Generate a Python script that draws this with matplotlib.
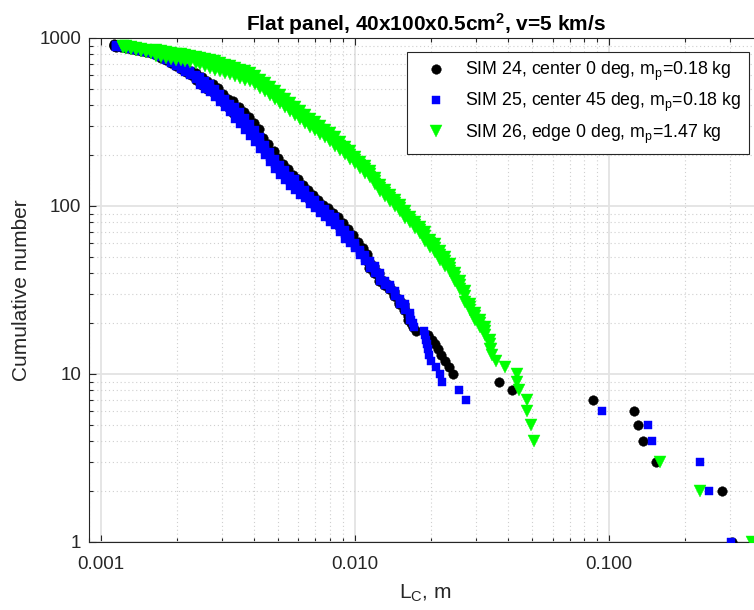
import numpy as np
import matplotlib
matplotlib.use("Agg")
import matplotlib.pyplot as plt
from matplotlib.ticker import FixedLocator, LogLocator, NullFormatter

plt.rcParams["font.family"] = ["Liberation Sans", "DejaVu Sans"]
plt.rcParams["mathtext.fontset"] = "custom"
plt.rcParams["mathtext.rm"] = "Liberation Sans"
plt.rcParams["mathtext.it"] = "Liberation Sans"
plt.rcParams["mathtext.bf"] = "Liberation Sans:bold"

# L_C in mm, cumulative number N.
# Dense part: sampled sizes with the middle, upper and lower edge of the band.
# Tail: the single fragments.

# SIM 24
lc24_dense = np.array([
    1.125, 1.15, 1.20, 1.254, 1.312, 1.373, 1.436, 1.502, 1.572, 1.645,
    1.721, 1.80, 1.884, 1.971, 2.062, 2.16, 2.26, 2.37, 2.50, 2.63,
    2.77, 2.90, 3.04, 3.18, 3.33, 3.49, 3.65, 3.82, 4.00, 4.18,
    4.37, 4.57, 4.79, 5.00, 5.24, 5.48, 5.73, 5.99, 6.27, 6.56,
    6.87, 7.18, 7.52, 7.87, 8.22, 8.60, 9.00, 9.42, 9.85, 10.30,
    10.75, 11.2, 11.4, 11.9, 12.45, 13.0, 13.6, 14.2, 14.9, 15.6,
    16.2])
n24_mid = np.array([
    908, 900, 892, 884, 872, 860, 848, 837, 820, 803,
    781, 757, 732, 703, 675, 648, 622, 590, 558, 528,
    506, 474, 442, 413, 386, 360, 336, 310, 286, 263,
    238, 218, 198, 180, 166, 154, 142, 135, 126, 118,
    110, 103, 97, 92, 86, 81, 75, 69, 64, 59,
    54, 50, 45, 42, 38, 35, 33, 30, 27, 25,
    22])
n24_top = np.array([
    920, 912, 904, 896, 884, 872, 860, 849, 831, 814,
    803, 778, 752, 723, 694, 666, 639, 623, 589, 558,
    534, 501, 467, 436, 419, 391, 365, 337, 310, 286,
    255, 233, 212, 193, 178, 165, 152, 145, 133, 125,
    116, 109, 102, 97, 91, 86, 79, 73, 67, 61,
    56, 52, 47, 44, 40, 36, 34, 31, 28, 26,
    23])
n24_bot = np.array([
    896, 888, 880, 872, 860, 848, 836, 826, 809, 792,
    760, 737, 712, 684, 657, 630, 605, 559, 528, 500,
    479, 449, 418, 391, 356, 332, 310, 286, 263, 242,
    222, 204, 185, 168, 155, 144, 133, 126, 119, 112,
    104, 98, 92, 87, 81, 77, 71, 65, 61, 57,
    52, 48, 43, 40, 36, 34, 32, 29, 26, 24,
    21])
lc24_tail = np.array([
    16.6, 16.96, 17.43, 19.43, 20.14, 20.70, 21.27, 21.85, 22.66, 23.38,
    24.44, 36.97, 41.6, 86.5, 125.0, 130.0, 136.5, 153.8, 278.6, 305.5])
n24_tail = np.array([
    20, 19, 18, 17, 16, 15, 14, 13, 12, 11,
    10, 9, 8, 7, 6, 5, 4, 3, 2, 1])

# SIM 25
lc25_dense = np.array([
    1.145, 1.198, 1.254, 1.312, 1.373, 1.436, 1.502, 1.572, 1.645, 1.721,
    1.800, 1.884, 1.971, 2.062, 2.157, 2.257, 2.362, 2.471, 2.585, 2.705,
    2.830, 2.961, 3.098, 3.241, 3.391, 3.548, 3.712, 3.884, 4.063, 4.251,
    4.448, 4.654, 4.869, 5.094, 5.330, 5.576, 5.834, 6.104, 6.387, 6.682,
    6.991, 7.315, 7.653, 8.007, 8.377, 8.765, 9.170, 9.595, 10.04, 10.50,
    10.99, 11.50, 12.03, 12.59, 13.17, 13.78, 14.41, 15.08, 15.78, 16.51])
n25_mid = np.array([
    896, 890, 884, 872, 860, 848, 837, 820, 803, 781,
    755, 730, 700, 672, 645, 619, 586, 555, 525, 504,
    471, 439, 411, 384, 358, 334, 308, 284, 261, 236,
    216, 196, 178, 164, 153, 141, 134, 125, 117, 109,
    102, 96, 91, 85, 81, 74, 68, 63, 58, 53,
    49, 45, 42, 38, 35, 33, 30, 27, 25, 22])
n25_top = np.array([
    908, 902, 896, 884, 872, 860, 849, 831, 814, 792,
    776, 750, 719, 691, 663, 636, 602, 586, 555, 532,
    498, 464, 434, 406, 389, 363, 334, 308, 283, 256,
    231, 210, 191, 176, 164, 151, 144, 134, 124, 115,
    108, 101, 96, 90, 86, 78, 72, 67, 60, 55,
    51, 47, 44, 40, 36, 34, 31, 28, 26, 23])
n25_bot = np.array([
    884, 878, 872, 860, 848, 836, 826, 809, 792, 770,
    735, 710, 681, 654, 628, 602, 570, 525, 497, 477,
    446, 416, 389, 364, 330, 308, 284, 262, 240, 217,
    202, 183, 166, 153, 143, 132, 125, 117, 111, 103,
    97, 91, 86, 80, 77, 70, 64, 60, 56, 51,
    47, 43, 40, 36, 34, 32, 29, 26, 24, 21])
lc25_tail = np.array([
    16.66, 16.96, 17.11, 18.74, 18.91, 19.08, 19.25, 19.43, 19.60, 19.96,
    20.88, 21.66, 22.13, 25.67, 27.50, 93.9, 143.0, 147.0, 227.8, 246.4,
    303.1])
n25_tail = np.array([
    21, 20, 19, 18, 17, 16, 15, 14, 13, 12,
    11, 10, 9, 8, 7, 6, 5, 4, 3, 2,
    1])

# SIM 26
lc26_dense = np.array([
    1.220, 1.254, 1.312, 1.373, 1.436, 1.502, 1.572, 1.645, 1.721, 1.800,
    1.884, 1.971, 2.062, 2.157, 2.257, 2.362, 2.471, 2.585, 2.705, 2.830,
    2.961, 3.098, 3.241, 3.391, 3.548, 3.712, 3.884, 4.063, 4.251, 4.448,
    4.654, 4.869, 5.094, 5.330, 5.576, 5.834, 6.104, 6.387, 6.682, 6.991,
    7.315, 7.653, 8.007, 8.377, 8.765, 9.170, 9.595, 10.04, 10.50, 10.99,
    11.50, 12.03, 12.59, 13.17, 13.78, 14.41, 15.08, 15.78, 16.51, 17.27,
    18.07, 18.91, 19.78, 20.70, 21.66, 22.66, 23.71, 24.80, 25.95, 27.15,
    28.41, 29.72, 31.09, 32.53, 34.04])
n26_mid = np.array([
    890, 884, 872, 860, 848, 837, 825, 814, 803, 792,
    781, 771, 766, 760, 750, 740, 730, 715, 700, 686,
    672, 658, 645, 627, 610, 598, 586, 562, 532, 508,
    484, 458, 434, 411, 389, 368, 348, 330, 312, 298,
    284, 270, 258, 242, 228, 214, 201, 188, 176, 165,
    155, 141, 128, 120, 112, 104, 97, 89, 83, 77,
    72, 66, 60, 56, 51, 47, 43, 38, 34, 29,
    25, 22, 20, 18, 15])
n26_top = np.array([
    902, 896, 884, 872, 860, 849, 836, 848, 837, 825,
    814, 803, 798, 792, 781, 771, 761, 755, 739, 725,
    710, 695, 681, 662, 644, 632, 619, 594, 562, 537,
    511, 484, 458, 434, 411, 389, 368, 349, 330, 315,
    300, 285, 273, 256, 241, 226, 212, 196, 183, 172,
    161, 147, 133, 125, 117, 108, 101, 93, 86, 80,
    75, 70, 63, 59, 54, 50, 45, 40, 36, 31,
    26, 23, 21, 19, 16])
n26_bot = np.array([
    878, 872, 860, 848, 836, 826, 814, 781, 771, 760,
    750, 740, 735, 729, 720, 710, 701, 677, 663, 649,
    636, 623, 611, 594, 577, 566, 555, 532, 504, 481,
    458, 434, 411, 389, 368, 348, 329, 312, 295, 282,
    269, 256, 244, 229, 216, 203, 190, 180, 169, 158,
    149, 135, 123, 115, 107, 100, 93, 85, 80, 74,
    69, 62, 57, 53, 48, 44, 41, 36, 32, 27,
    24, 21, 19, 17, 14])
lc26_tail = np.array([
    34.4, 34.6, 35.8, 39.0, 43.3, 43.4, 44.4, 47.6, 47.7, 49.4,
    50.5, 159.0, 229.0, 367.0])
n26_tail = np.array([
    14, 13, 12, 11, 10, 9, 8, 7, 6, 5,
    4, 3, 2, 1])

labels = [
    r"SIM 24, center 0 deg, m$_\mathrm{p}$=0.18 kg",
    r"SIM 25, center 45 deg, m$_\mathrm{p}$=0.18 kg",
    r"SIM 26, edge 0 deg, m$_\mathrm{p}$=1.47 kg",
]


def series(lc_dense, n_mid, n_top, n_bot, lc_tail, n_tail):
    lc = np.concatenate([lc_dense, lc_dense, lc_dense, lc_tail]) * 1e-3
    n = np.concatenate([n_mid, n_top, n_bot, n_tail])
    return lc, n


fig = plt.figure(figsize=(7.54, 6.10), dpi=100)
ax = fig.add_axes([89 / 754, 68 / 610, 673 / 754, 504 / 610])

x24, y24 = series(lc24_dense, n24_mid, n24_top, n24_bot, lc24_tail, n24_tail)
x25, y25 = series(lc25_dense, n25_mid, n25_top, n25_bot, lc25_tail, n25_tail)
x26, y26 = series(lc26_dense, n26_mid, n26_top, n26_bot, lc26_tail, n26_tail)

ax.plot(x24, y24, ls="none", marker="o", ms=6.9,
        color="black", mec="black", mew=0.3, label=labels[0], zorder=3)
ax.plot(x25, y25, ls="none", marker="s", ms=5.6,
        color="#0000ff", mec="#0000ff", mew=0.3, label=labels[1], zorder=4)
ax.plot(x26, y26, ls="none", marker="v", ms=8.5,
        color="#00ff00", mec="#00ff00", mew=0.3, label=labels[2], zorder=5)

ax.set_xscale("log")
ax.set_yscale("log")
ax.set_xlim(0.0009, 0.4)
ax.set_ylim(1, 1000)

ax.xaxis.set_major_locator(FixedLocator([0.001, 0.01, 0.1]))
ax.set_xticklabels(["0.001", "0.010", "0.100"])
ax.yaxis.set_major_locator(FixedLocator([1, 10, 100, 1000]))
ax.set_yticklabels(["1", "10", "100", "1000"])
ax.xaxis.set_minor_locator(LogLocator(base=10, subs=np.arange(2, 10)))
ax.yaxis.set_minor_locator(LogLocator(base=10, subs=np.arange(2, 10)))
ax.xaxis.set_minor_formatter(NullFormatter())
ax.yaxis.set_minor_formatter(NullFormatter())

ax.tick_params(which="both", direction="in", top=True, right=True,
               colors="#262626", labelsize=13.5, width=0.8)
ax.tick_params(which="major", length=5)
ax.tick_params(which="minor", length=3)
ax.tick_params(axis="x", which="both", pad=10)
ax.tick_params(axis="y", which="both", pad=5.5)

ax.set_axisbelow(True)
ax.grid(which="major", color="#e3e3e3", lw=1.3, ls="-")
ax.grid(which="minor", color="#cfcfcf", lw=0.8, ls=(0, (1, 2.5)))

for s in ax.spines.values():
    s.set_color("#262626")
    s.set_linewidth(0.8)

ax.set_title(r"Flat panel, 40x100x0.5cm$^\mathbf{2}$, v=5 km/s",
             fontsize=15, fontweight="bold", pad=5.5)
ax.set_xlabel(r"L$_\mathrm{C}$, m", fontsize=15, color="#262626", labelpad=7)
ax.set_ylabel("Cumulative number", fontsize=15, color="#262626", labelpad=6)

leg = ax.legend(loc="upper right", bbox_to_anchor=(749 / 754, 1 - 52 / 610),
                bbox_transform=fig.transFigure, borderaxespad=0,
                fontsize=12.8, frameon=True, fancybox=False, framealpha=1,
                edgecolor="#262626", handletextpad=0.4, labelspacing=0.45,
                borderpad=0.45, handlelength=2.4)
leg.get_frame().set_linewidth(0.8)

fig.savefig("out.png", dpi=100)
